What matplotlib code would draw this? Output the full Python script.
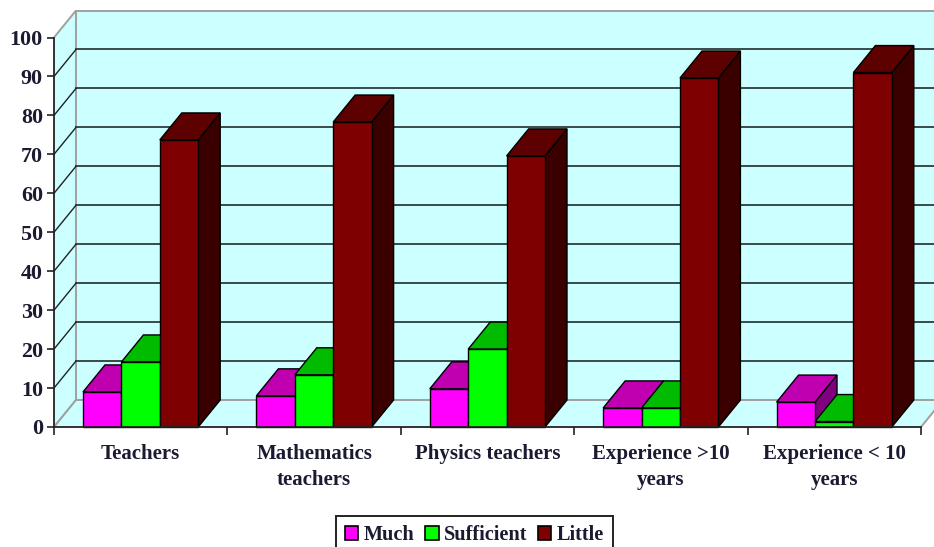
import matplotlib
matplotlib.use("Agg")
import matplotlib.pyplot as plt
import matplotlib.patches as mpatches
import numpy as np

plt.rcParams["font.family"] = ["Liberation Serif", "DejaVu Serif"]
plt.rcParams["font.weight"] = "bold"

CATEGORIES = ["Teachers", "Mathematics\nteachers", "Physics teachers",
              "Experience >10\nyears", "Experience < 10\nyears"]
MUCH       = [9.0, 8.0, 9.8, 4.9, 6.4]
SUFFICIENT = [16.7, 13.4, 20.0, 4.9, 1.4]
LITTLE     = [73.7, 78.3, 69.6, 89.6, 91.0]
SERIES = ["Much", "Sufficient", "Little"]
Y_TICKS = list(range(0, 101, 10))

# (front, top, side)
FACES = [("#FF00FF", "#C000B0", "#800080"),
         ("#00FF00", "#00BB00", "#007F00"),
         ("#7F0000", "#5C0000", "#3A0000")]

W, H = 934, 547
fig = plt.figure(figsize=(W / 100, H / 100), dpi=100)
ax = fig.add_axes([54 / W, 1 - 427 / H, (921 - 54) / W, (427 - 37.5) / H])
ax.set_xlim(0, len(CATEGORIES))
ax.set_ylim(0, 100)

# fake 3D depth, in data units
DX = 22 / 173.4
DY = 27 / 3.895
WALL = "#CCFFFF"
WALL_EDGE = "#A0A0A0"
n = len(CATEGORIES)


def poly(pts, color, edge="black", lw=1.0, z=3):
    ax.add_patch(mpatches.Polygon(pts, closed=True, facecolor=color, edgecolor=edge,
                                  linewidth=lw, zorder=z, clip_on=False, joinstyle="miter"))


# walls and floor
poly([(DX, DY), (n + DX, DY), (n + DX, 100 + DY), (DX, 100 + DY)], WALL, WALL_EDGE, 1.4, 1)
poly([(0, 0), (DX, DY), (DX, 100 + DY), (0, 100)], WALL, WALL_EDGE, 1.4, 1)
poly([(0, 0), (n, 0), (n + DX, DY), (DX, DY)], WALL, WALL_EDGE, 1.4, 1)

# gridlines on back and side wall
for v in Y_TICKS[1:-1]:
    ax.plot([DX, n + DX], [v + DY, v + DY], color="#3A4A4A", lw=1.4, zorder=2, clip_on=False)
    ax.plot([0, DX], [v, v + DY], color="#222222", lw=1.0, zorder=2, clip_on=False)

# bars, left to right so the nearer faces paint over
bar_w = 38.4 / 173.4
start = 29 / 173.4
for i in range(n):
    for j, vals in enumerate([MUCH, SUFFICIENT, LITTLE]):
        x0 = i + start + j * bar_w
        x1 = x0 + bar_w
        h = vals[i]
        front, top, side = FACES[j]
        z = 3 + i * 3 + j * 0.1
        poly([(x1, 0), (x1 + DX, DY), (x1 + DX, h + DY), (x1, h)], side, z=z)
        poly([(x0, h), (x1, h), (x1 + DX, h + DY), (x0 + DX, h + DY)], top, z=z)
        poly([(x0, 0), (x1, 0), (x1, h), (x0, h)], front, z=z)

for s in ["top", "right"]:
    ax.spines[s].set_visible(False)
for s in ["left", "bottom"]:
    ax.spines[s].set_color("#222222")
    ax.spines[s].set_linewidth(1.2)
    ax.spines[s].set_zorder(40)
ax.patch.set_visible(False)

ax.set_yticks(Y_TICKS)
ax.set_yticklabels([str(v) for v in Y_TICKS], fontsize=15.8, color="#1A1A30")
ax.tick_params(axis="y", length=5, width=1.2, color="#222222", pad=3)
ax.set_xticks(np.arange(n + 1))
ax.set_xticklabels([])
ax.tick_params(axis="x", which="major", length=6, width=1.2, color="#222222")
ax.set_xticks(np.arange(n) + 0.5, minor=True)
ax.set_xticklabels(CATEGORIES, minor=True, fontsize=15, color="#1A1A30", linespacing=1.4)
ax.tick_params(axis="x", which="minor", length=0, pad=12)

# legend box runs past the bottom edge, as in the source image
handles = [mpatches.Patch(facecolor=FACES[k][0], edgecolor="black", linewidth=1.2, label=SERIES[k])
           for k in range(3)]
leg = fig.legend(handles=handles, loc="center", bbox_to_anchor=(474.5 / W, 1 - 535 / H), ncol=3,
                 fontsize=14.6, frameon=True, fancybox=False, framealpha=1, edgecolor="#222222",
                 handlelength=0.65, handleheight=0.65, handletextpad=0.25, columnspacing=0.55,
                 borderpad=0.45, borderaxespad=0)
leg.get_frame().set_linewidth(1.4)
for t in leg.get_texts():
    t.set_color("#1A1A30")

fig.savefig("out.png", dpi=100)
